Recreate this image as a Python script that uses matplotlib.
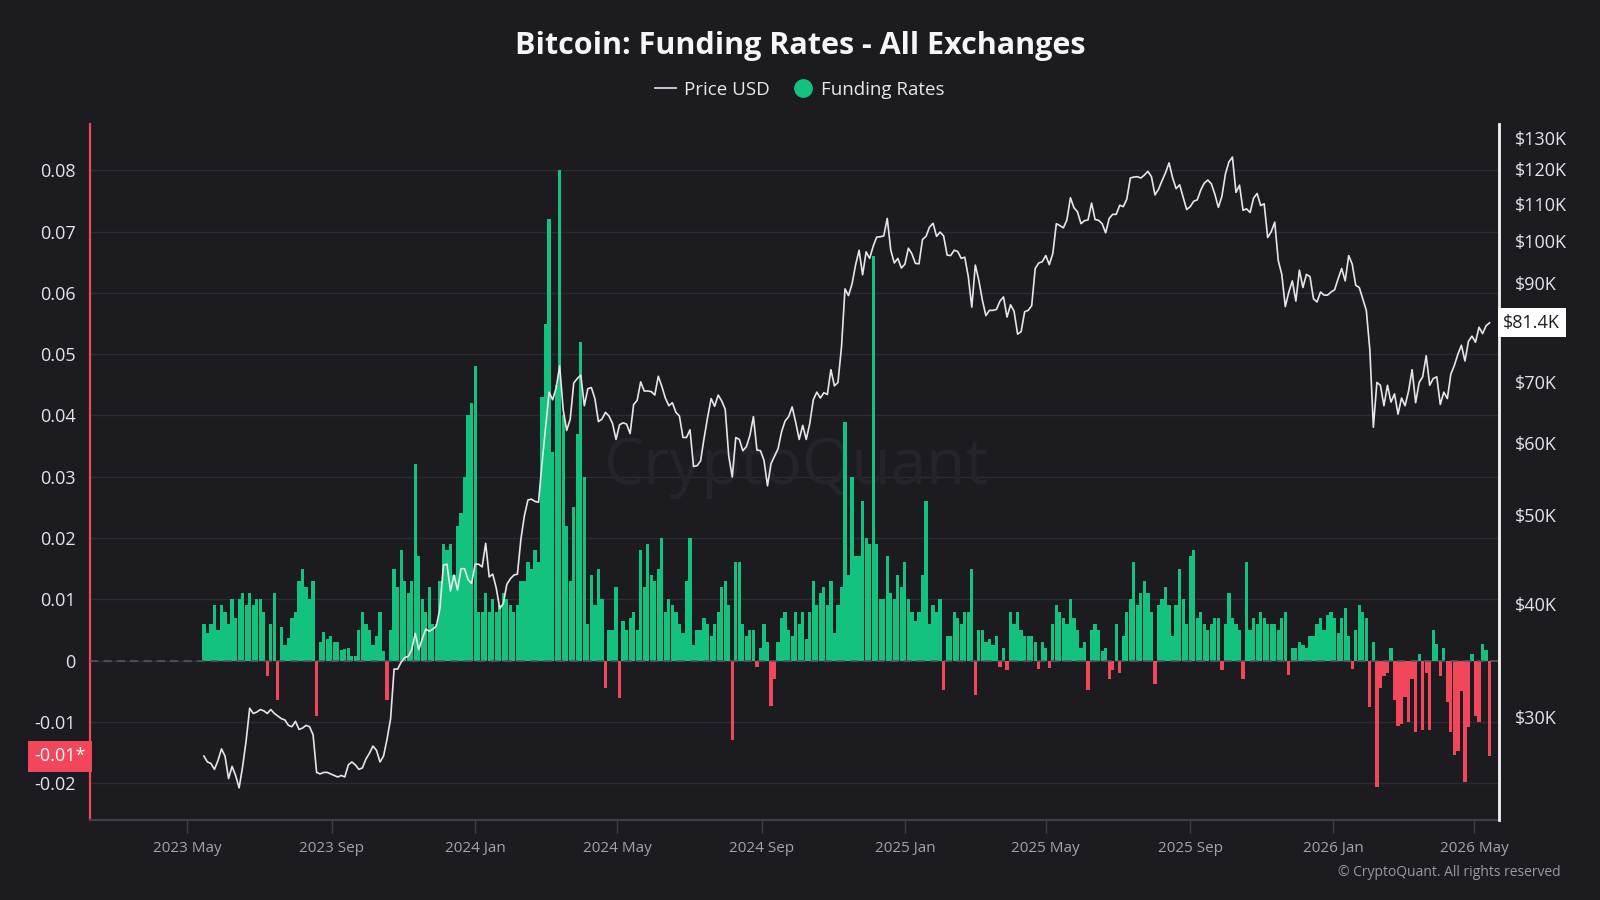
import matplotlib
matplotlib.use("Agg")
import matplotlib.pyplot as plt
import matplotlib.dates as mdates
from matplotlib.lines import Line2D
from matplotlib.ticker import FixedLocator, NullLocator, FixedFormatter
import pandas as pd

# ---------------- data (3-day sampling, starting 2023-05-15) ----------------
start_date = "2023-05-15"
step = "3D"

price_k = [
    27.2, 26.8, 26.7, 26.3, 26.9, 27.7, 27.2, 25.7, 26.5, 25.9,
    25.1, 26.5, 28.3, 30.7, 30.3, 30.4, 30.6, 30.5, 30.3, 30.6,
    30.3, 30.1, 29.9, 29.8, 29.4, 29.3, 29.7, 29.1, 29.2, 29.4,
    29.3, 28.7, 26.1, 26.0, 26.1, 26.1, 26.0, 25.9, 25.8, 25.9,
    25.8, 26.6, 26.8, 26.6, 26.3, 26.4, 27.0, 27.4, 27.9, 27.6,
    26.8, 27.2, 28.4, 29.9, 33.9, 33.9, 34.5, 34.9, 35.0, 35.6,
    37.1, 35.6, 36.6, 37.5, 37.3, 37.5, 37.8, 39.5, 44.1, 44.2,
    41.3, 43.0, 41.4, 43.7, 43.7, 42.5, 42.1, 44.2, 44.2, 43.9,
    46.6, 42.8, 43.1, 41.6, 39.5, 40.0, 42.0, 42.6, 43.0, 43.1,
    47.1, 50.0, 52.0, 52.1, 51.8, 51.7, 57.1, 62.4, 68.3, 67.0,
    69.0, 73.0, 65.3, 62.0, 63.8, 69.9, 70.7, 71.3, 66.0, 68.9,
    69.1, 67.2, 63.4, 63.8, 64.9, 64.3, 63.1, 60.6, 62.9, 63.2,
    63.0, 61.5, 66.2, 66.9, 70.1, 68.5, 68.5, 68.4, 67.8, 71.1,
    69.3, 67.3, 66.0, 66.5, 64.9, 64.3, 60.9, 60.9, 62.1, 56.6,
    56.7, 57.4, 60.8, 64.1, 67.2, 65.9, 67.8, 66.8, 65.4, 58.1,
    55.1, 60.9, 60.6, 58.9, 59.5, 61.2, 64.2, 59.0, 58.9, 57.5,
    53.9, 57.0, 58.1, 59.2, 61.8, 63.5, 64.2, 65.8, 63.3, 60.6,
    62.8, 60.6, 63.1, 67.0, 68.3, 67.3, 68.2, 67.9, 72.3, 69.4,
    70.0, 76.5, 88.7, 87.2, 89.8, 94.2, 97.8, 91.9, 97.4, 95.8,
    98.8, 101.1, 101.2, 101.4, 106.0, 97.8, 94.7, 95.8, 93.5, 94.4,
    98.3, 96.9, 94.6, 94.5, 100.5, 101.3, 103.7, 104.7, 101.3, 102.4,
    101.4, 96.6, 96.5, 97.8, 97.5, 95.8, 96.1, 91.5, 84.7, 94.2,
    90.6, 86.2, 82.9, 84.0, 84.0, 84.2, 86.0, 86.9, 82.6, 85.2,
    83.8, 79.1, 79.6, 83.7, 84.0, 85.0, 93.4, 94.7, 95.0, 96.5,
    94.3, 97.0, 104.6, 104.1, 103.5, 105.6, 111.7, 108.9, 107.8, 104.6,
    105.4, 105.6, 110.2, 105.7, 105.5, 104.6, 102.2, 106.0, 107.1, 107.1,
    109.6, 109.2, 111.3, 117.4, 117.7, 117.8, 117.4, 118.3, 119.4, 117.8,
    112.5, 114.1, 116.6, 119.0, 122.0, 117.5, 114.3, 115.4, 111.8, 108.4,
    109.2, 110.7, 111.1, 113.9, 115.9, 116.8, 115.7, 112.7, 109.0, 112.1,
    118.6, 122.3, 123.8, 113.2, 115.3, 108.2, 108.6, 107.6, 111.6, 112.9,
    109.5, 110.0, 101.0, 102.5, 105.0, 95.3, 92.0, 84.8, 88.0, 90.5,
    86.0, 93.0, 89.0, 92.0, 91.5, 86.5, 85.8, 88.0, 87.3, 87.3,
    88.0, 88.5, 91.0, 93.4, 90.5, 96.5, 94.4, 89.5, 89.0, 86.5,
    84.0, 76.0, 62.5, 70.0, 69.5, 66.0, 69.5, 66.6, 68.0, 64.6,
    67.3, 66.0, 68.5, 72.3, 66.5, 70.0, 71.0, 74.9, 69.5, 70.7,
    71.0, 66.2, 68.3, 67.2, 71.5, 73.1, 75.2, 76.9, 73.9, 77.7,
    78.7, 77.5, 80.5, 79.2, 80.8, 81.4,
]

funding = [
    0.006, 0.0045, 0.006, 0.009, 0.005, 0.009, 0.008, 0.006, 0.010, 0.007,
    0.010, 0.011, 0.009, 0.011, 0.009, 0.010, 0.010, 0.008, -0.0026, 0.006,
    0.011, -0.0064, 0.0055, 0.0025, 0.0037, 0.007, 0.008, 0.013, 0.015, 0.012,
    0.010, 0.013, -0.0091, 0.003, 0.0046, 0.0035, 0.004, 0.003, 0.003, 0.0017,
    0.0018, 0.002, 0.0008, 0.0008, 0.005, 0.008, 0.006, 0.005, 0.0025, 0.004,
    0.008, 0.0015, -0.0064, 0.005, 0.015, 0.012, 0.018, 0.013, 0.011, 0.013,
    0.032, 0.017, 0.010, 0.008, 0.012, 0.006, 0.006, 0.013, 0.019, 0.018,
    0.019, 0.014, 0.022, 0.024, 0.030, 0.040, 0.042, 0.048, 0.008, 0.008,
    0.011, 0.008, 0.010, 0.008, 0.009, 0.011, 0.010, 0.009, 0.008, 0.009,
    0.013, 0.013, 0.016, 0.015, 0.018, 0.016, 0.043, 0.055, 0.072, 0.034,
    0.045, 0.080, 0.040, 0.022, 0.013, 0.025, 0.037, 0.052, 0.030, 0.006,
    0.014, 0.009, 0.015, 0.010, -0.0045, 0.005, 0.005, 0.012, -0.0062, 0.0065,
    0.005, 0.007, 0.008, 0.005, 0.018, 0.012, 0.019, 0.014, 0.013, 0.015,
    0.020, 0.008, 0.010, 0.009, 0.008, 0.006, 0.0045, 0.013, 0.020, 0.0025,
    0.005, 0.005, 0.007, 0.006, 0.004, 0.006, 0.008, 0.012, 0.013, 0.009,
    -0.013, 0.016, 0.016, 0.006, 0.004, 0.005, 0.005, -0.001, 0.002, 0.006,
    0.003, -0.0075, -0.003, 0.003, 0.007, 0.008, 0.005, 0.004, 0.008, 0.006,
    0.008, 0.0035, 0.008, 0.013, 0.009, 0.011, 0.012, 0.009, 0.013, 0.0045,
    0.009, 0.012, 0.039, 0.014, 0.030, 0.017, 0.017, 0.026, 0.020, 0.019,
    0.066, 0.019, 0.010, 0.010, 0.017, 0.011, 0.010, 0.014, 0.012, 0.016,
    0.010, 0.008, 0.0065, 0.008, 0.014, 0.026, 0.006, 0.009, 0.008, 0.010,
    -0.0048, 0.004, 0.004, 0.008, 0.007, 0.006, 0.008, 0.008, 0.015, -0.0057,
    0.005, 0.005, 0.003, 0.0035, 0.0025, 0.004, -0.001, 0.002, -0.0016, 0.008,
    0.006, 0.008, 0.005, 0.004, 0.004, 0.004, 0.003, -0.0014, 0.003, 0.002,
    -0.0013, 0.006, 0.009, 0.008, 0.007, 0.006, 0.010, 0.007, 0.005, 0.002,
    0.003, -0.0048, 0.005, 0.006, 0.005, 0.0015, 0.002, -0.003, -0.0016, 0.006,
    -0.002, 0.004, 0.008, 0.010, 0.016, 0.009, 0.011, 0.013, 0.011, 0.008,
    -0.0038, 0.009, 0.010, 0.012, 0.009, 0.004, 0.009, 0.015, 0.010, 0.006,
    0.017, 0.018, 0.007, 0.008, 0.006, 0.005, 0.006, 0.007, 0.007, -0.0015,
    0.006, 0.011, 0.007, 0.006, 0.005, -0.003, 0.016, 0.005, 0.007, 0.006,
    0.008, 0.007, 0.006, 0.006, 0.006, 0.005, 0.007, 0.008, -0.0023, 0.002,
    0.002, 0.003, 0.0025, 0.002, 0.004, 0.004, 0.006, 0.007, 0.005, 0.0075,
    0.008, 0.007, 0.0045, 0.007, 0.0085, 0.004, -0.0014, 0.005, 0.009, 0.008,
    0.007, -0.0076, 0.003, -0.0207, -0.0045, -0.0025, -0.002, 0.002, -0.0064, -0.0107,
    -0.0104, -0.006, -0.0101, -0.003, -0.0117, 0.001, -0.0114, -0.002, -0.0114, 0.005,
    0.0027, -0.0026, 0.002, -0.0067, -0.0117, -0.0154, -0.0148, -0.005, -0.0198, -0.0108,
    0.001, -0.009, -0.010, 0.0027, 0.0017, -0.0156,
]

funding_ticks = [-0.02, -0.01, 0, 0.01, 0.02, 0.03, 0.04, 0.05, 0.06, 0.07, 0.08]
funding_tick_labels = ["-0.02", "-0.01", "0", "0.01", "0.02", "0.03", "0.04",
                       "0.05", "0.06", "0.07", "0.08"]
# $80K tick is hidden behind the last-price badge in the reference
price_ticks = [30, 40, 50, 60, 70, 90, 100, 110, 120, 130]
price_tick_labels = ["$30K", "$40K", "$50K", "$60K", "$70K", "$90K",
                     "$100K", "$110K", "$120K", "$130K"]
last_price_label = "$81.4K"
last_funding_label = "-0.01*"

# ---------------- style ----------------
BG = "#1b1b20"
GREEN = "#12c27e"
RED = "#f2465a"
GRID = "#2b2b33"
plt.rcParams["font.family"] = ["Open Sans", "DejaVu Sans"]
plt.rcParams["axes.unicode_minus"] = False

dates = pd.date_range(start_date, periods=len(funding), freq=step)
pdates = pd.date_range(start_date, periods=len(price_k), freq=step)

fig = plt.figure(figsize=(16, 9), dpi=100, facecolor=BG)
ax = fig.add_axes([0.05625, 0.08889, 0.880625, 0.77333])
ax.set_facecolor(BG)

colors = [GREEN if v >= 0 else RED for v in funding]
ax.bar(dates, funding, width=2.75, color=colors, linewidth=0, zorder=2)
ax.axhline(0, color="#55555f", lw=1.2, ls=(0, (5, 3)), zorder=3)

ax.set_ylim(-0.02604, 0.08759)
ax.yaxis.set_major_locator(FixedLocator(funding_ticks))
ax.yaxis.set_major_formatter(FixedFormatter(funding_tick_labels))
ax.yaxis.grid(True, color=GRID, lw=1)
ax.set_axisbelow(True)

ax.set_xlim(pd.Timestamp("2023-02-07"), pd.Timestamp("2026-05-22"))
ax.xaxis.set_major_locator(mdates.MonthLocator(bymonth=[1, 5, 9]))
ax.xaxis.set_major_formatter(mdates.DateFormatter("%Y %b"))
ax.tick_params(axis="x", length=9, width=1, color="#3f3f48",
               labelcolor="#a4a4ac", labelsize=11, pad=6)
ax.tick_params(axis="y", length=0, labelcolor="#e4e4ea", labelsize=13, pad=10.5)

for s in ["top", "right"]:
    ax.spines[s].set_visible(False)
ax.spines["left"].set_color(RED)
ax.spines["left"].set_linewidth(1.6)
ax.spines["bottom"].set_color("#3f3f48")
ax.spines["bottom"].set_linewidth(1.5)

# watermark
ax.text(0.501, 0.507, "CryptoQuant", transform=ax.transAxes, ha="center",
        va="center", fontsize=46, color="#24242a", zorder=1)

# price axis
ax2 = ax.twinx()
ax2.set_yscale("log")
ax2.set_ylim(23.14, 134.6)
ax2.plot(pdates, price_k, color="#e6e6ea", lw=1.2, zorder=4)
ax2.yaxis.set_major_locator(FixedLocator(price_ticks))
ax2.yaxis.set_major_formatter(FixedFormatter(price_tick_labels))
ax2.yaxis.set_minor_locator(NullLocator())
ax2.tick_params(axis="y", length=0, labelcolor="#e4e4ea", labelsize=13, pad=11.5)
for s in ["top", "left", "bottom"]:
    ax2.spines[s].set_visible(False)
ax2.spines["right"].set_color("#f4f4f6")
ax2.spines["right"].set_linewidth(2)

# last-value badges
ax2.annotate(last_price_label, xy=(1.003, price_k[-1]),
             xycoords=("axes fraction", "data"), ha="left", va="center",
             fontsize=13, color="#1b1b20", annotation_clip=False, zorder=10,
             bbox=dict(boxstyle="square,pad=0.3", fc="white", ec="none"))
ax.annotate(last_funding_label, xy=(-0.003, funding[-1]),
            xycoords=("axes fraction", "data"), ha="right", va="center",
            fontsize=13, color="white", annotation_clip=False, zorder=10,
            bbox=dict(boxstyle="square,pad=0.36", fc=RED, ec="none"))

# title & legend
fig.text(0.5, 1 - 46 / 900, "Bitcoin: Funding Rates - All Exchanges", ha="center",
         va="center", fontsize=22, fontweight="bold", color="#f6f6f8")
handles = [Line2D([0], [0], color="#d4d4da", lw=1.3),
           Line2D([0], [0], marker="o", ls="none", color=GREEN, markersize=12.5)]
fig.legend(handles=handles, labels=["Price USD", "Funding Rates"], loc="center",
           bbox_to_anchor=(0.5, 1 - 90 / 900), ncol=2, frameon=False,
           fontsize=13.5, labelcolor="#e8e8ec", handlelength=1.1,
           handletextpad=0.45, columnspacing=1.2)

fig.text(1561 / 1600, 1 - 872 / 900, "\u00a9 CryptoQuant. All rights reserved",
         ha="right", va="center", fontsize=10, color="#9a9aa2")

fig.savefig("out.png", dpi=100, facecolor=BG)
